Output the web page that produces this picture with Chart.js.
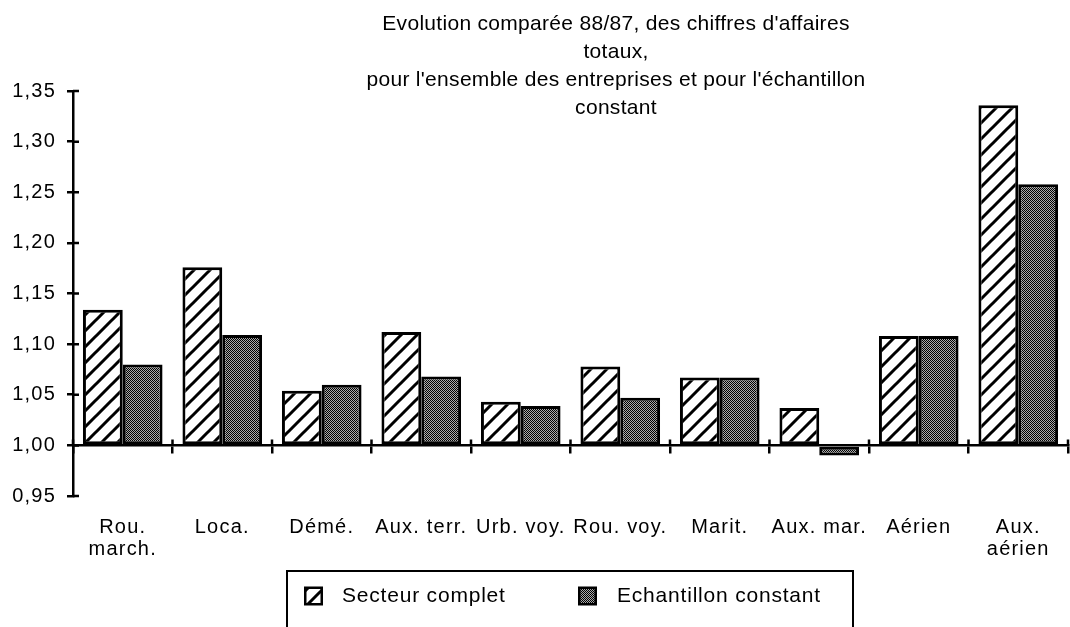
<!DOCTYPE html>
<html><head><meta charset="utf-8">
<script src="https://cdn.jsdelivr.net/npm/chart.js@4.4.1/dist/chart.umd.min.js"></script>
<style>html,body{margin:0;padding:0;background:#fff;}canvas{display:block}</style>
</head><body>
<canvas id="c" width="1070" height="627"></canvas>
<script>
// ---------- data ----------
const titleLines = [
  "Evolution comparée 88/87, des chiffres d'affaires",
  "totaux,",
  "pour l'ensemble des entreprises et pour l'échantillon",
  "constant"
];
const categories = [["Rou.", "march."], "Loca.", "Démé.", "Aux. terr.", "Urb. voy.", "Rou. voy.", "Marit.", "Aux. mar.", "Aérien", ["Aux.", "aérien"]];
const seriesNames = ["Secteur complet", "Echantillon constant"];
const secteurComplet = [1.134, 1.176, 1.054, 1.112, 1.043, 1.078, 1.067, 1.037, 1.108, 1.336];
const echantillonConstant = [1.080, 1.109, 1.060, 1.068, 1.039, 1.047, 1.067, 0.990, 1.108, 1.258];
const yMin = 0.95, yMax = 1.35, yStep = 0.05, baseValue = 1.00;

// ---------- patterns ----------
const canvas = document.getElementById('c');
const ctx0 = canvas.getContext('2d');
function makeHatch() {
  const s = 16, c = document.createElement('canvas'); c.width = c.height = s;
  const g = c.getContext('2d');
  g.fillStyle = '#fff'; g.fillRect(0, 0, s, s);
  g.strokeStyle = '#000'; g.lineWidth = 3;
  g.beginPath();
  g.moveTo(0, s); g.lineTo(s, 0);
  g.moveTo(-s / 2, s / 2); g.lineTo(s / 2, -s / 2);
  g.moveTo(s / 2, s * 1.5); g.lineTo(s * 1.5, s / 2);
  g.stroke();
  return ctx0.createPattern(c, 'repeat');
}
function makeStipple() {
  const c = document.createElement('canvas'); c.width = c.height = 2;
  const g = c.getContext('2d');
  g.fillStyle = '#000'; g.fillRect(0, 0, 2, 2);
  g.fillStyle = '#ababab'; g.fillRect(1, 0, 1, 1); g.fillRect(0, 1, 1, 1);
  return ctx0.createPattern(c, 'repeat');
}
const hatch = makeHatch();
const stipple = makeStipple();
const fills = [hatch, stipple];

const FONT = "'Liberation Sans', Arial, Helvetica, sans-serif";
const SPACING = '1.2px';

// ---------- plugins ----------
const spacingPlugin = {
  id: 'spacing',
  beforeUpdate(chart) { chart.ctx.letterSpacing = SPACING; },
  beforeLayout(chart) { chart.ctx.letterSpacing = SPACING; },
  beforeDraw(chart) { chart.ctx.letterSpacing = SPACING; }
};

const crossTicksPlugin = {
  id: 'crossTicks',
  afterDraw(chart) {
    const ctx = chart.ctx, ys = chart.scales.y, xs = chart.scales.x;
    ctx.save();
    ctx.strokeStyle = '#000'; ctx.lineWidth = 2.5;
    ctx.beginPath();
    ys.ticks.forEach(t => {
      const y = ys.getPixelForValue(t.value);
      ctx.moveTo(ys.right, y); ctx.lineTo(ys.right + 6, y);
    });
    const y0 = ys.getPixelForValue(baseValue);
    for (let i = 0; i <= categories.length; i++) {
      const x = xs.getPixelForValue(i - 0.5);
      ctx.moveTo(x, y0); ctx.lineTo(x, y0 - 6);
    }
    ctx.stroke();
    ctx.restore();
  }
};

const titlePlugin = {
  id: 'multiTitle',
  afterDraw(chart, args, o) {
    const ctx = chart.ctx;
    ctx.save();
    ctx.letterSpacing = '0.3px';
    ctx.font = '21px ' + FONT;
    ctx.fillStyle = '#000';
    ctx.textAlign = 'center';
    ctx.textBaseline = 'alphabetic';
    titleLines.forEach((l, i) => ctx.fillText(l, o.x, o.y + i * o.lineHeight));
    ctx.restore();
  }
};

const boxLegendPlugin = {
  id: 'boxLegend',
  afterDraw(chart, args, o) {
    const ctx = chart.ctx;
    ctx.save();
    ctx.strokeStyle = '#000'; ctx.lineWidth = 2;
    ctx.strokeRect(o.left, o.top, o.right - o.left, 80);
    ctx.letterSpacing = '0.8px';
    ctx.font = '21px ' + FONT;
    ctx.textBaseline = 'middle';
    ctx.textAlign = 'left';
    chart.data.datasets.forEach((ds, i) => {
      const it = o.items[i];
      ctx.fillStyle = '#000';
      ctx.fillRect(it.box, o.cy - o.size / 2, o.size, o.size);
      ctx.fillStyle = ds.backgroundColor;
      ctx.fillRect(it.box + 2.5, o.cy - o.size / 2 + 2.5, o.size - 5, o.size - 5);
      ctx.fillStyle = '#000';
      ctx.fillText(ds.label, it.text, o.cy);
    });
    ctx.restore();
  }
};

// ---------- chart ----------
new Chart(canvas, {
  type: 'bar',
  data: {
    labels: categories,
    datasets: [
      { label: seriesNames[0], data: secteurComplet, backgroundColor: fills[0] },
      { label: seriesNames[1], data: echantillonConstant, backgroundColor: fills[1] }
    ].map(d => Object.assign(d, {
      borderColor: '#000', borderWidth: 3, borderSkipped: false,
      base: baseValue, categoryPercentage: 0.8, barPercentage: 1.0
    }))
  },
  options: {
    responsive: false,
    animation: false,
    events: [],
    layout: { padding: { top: 91, left: 0, right: 2, bottom: 71 } },
    plugins: {
      legend: { display: false },
      tooltip: { enabled: false },
      title: { display: false },
      multiTitle: { x: 616, y: 30, lineHeight: 28 },
      boxLegend: {
        left: 287, top: 571, right: 853, cy: 596, size: 19,
        items: [{ box: 304, text: 342 }, { box: 578, text: 617 }]
      }
    },
    scales: {
      y: {
        min: yMin, max: yMax, beginAtZero: false,
        ticks: {
          stepSize: yStep, color: '#000', font: { family: FONT, size: 20 }, padding: 11,
          callback: v => v.toFixed(2).replace('.', ',')
        },
        grid: { drawOnChartArea: false, drawTicks: true, tickLength: 6, color: '#000', lineWidth: 2.5 },
        border: { display: true, color: '#000', width: 2.5 },
        afterFit: s => { s.width = 73; }
      },
      x: {
        type: 'category',
        position: { y: baseValue },
        offset: true,
        ticks: { display: false },
        grid: { offset: true, drawOnChartArea: false, drawTicks: true, tickLength: 7, color: '#000', lineWidth: 2.5 },
        border: { display: true, color: '#000', width: 2.5, z: 1 }
      },
      x2: {
        type: 'category',
        axis: 'x',
        labels: categories,
        position: 'bottom',
        offset: true,
        grid: { display: false, drawTicks: false },
        border: { display: false },
        ticks: { color: '#000', font: { family: FONT, size: 20, lineHeight: 1.1 }, padding: 20, maxRotation: 0, autoSkip: false },
        afterFit: s => { s.height = 60; }
      }
    }
  },
  plugins: [spacingPlugin, crossTicksPlugin, titlePlugin, boxLegendPlugin]
});
</script>
</body></html>
